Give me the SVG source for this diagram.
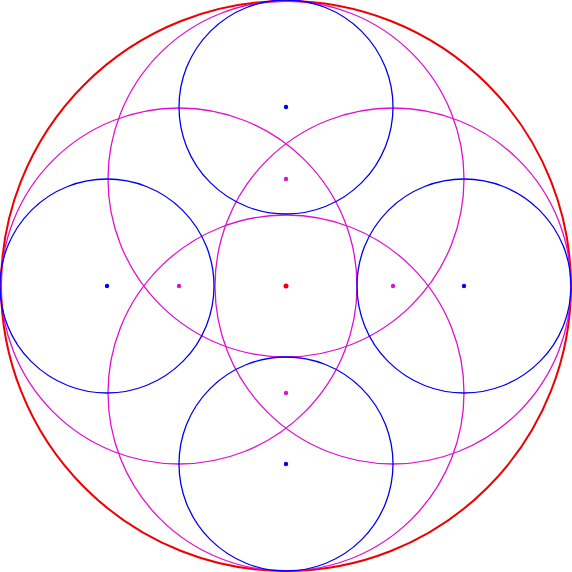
<svg xmlns="http://www.w3.org/2000/svg" width="572" height="572" viewBox="0 0 572 572">
<style>
.b{fill:none;stroke:#0000ee;stroke-width:1.3}
.m{fill:none;stroke:#e010d0;stroke-width:1.3}
.r{fill:none;stroke:#ee0000;stroke-width:2}
.bd{fill:#0000ee}.md{fill:#e010d0}.rd{fill:#ee0000}
</style>
<rect width="572" height="572" fill="#fff"/>
<g id="red"><circle class="r" cx="286" cy="286" r="285"/><circle class="rd" cx="286" cy="286" r="2.5"/></g>
<g id="magenta-top"><circle class="m" cx="286" cy="179" r="178"/><circle class="md" cx="286" cy="179" r="2.2"/></g>
<g id="magenta-left"><circle class="m" cx="179" cy="286" r="178"/><circle class="md" cx="179" cy="286" r="2.2"/></g>
<g id="magenta-right"><circle class="m" cx="393" cy="286" r="178"/><circle class="md" cx="393" cy="286" r="2.2"/></g>
<g id="magenta-bottom"><circle class="m" cx="286" cy="393" r="178"/><circle class="md" cx="286" cy="393" r="2.2"/></g>
<g id="blue-top"><circle class="b" cx="286" cy="107" r="107"/><circle class="bd" cx="286" cy="107" r="2.2"/></g>
<g id="blue-left"><circle class="b" cx="107" cy="286" r="107"/><circle class="bd" cx="107" cy="286" r="2.2"/></g>
<g id="blue-right"><circle class="b" cx="464" cy="286" r="107"/><circle class="bd" cx="464" cy="286" r="2.2"/></g>
<g id="blue-bottom"><circle class="b" cx="286" cy="464" r="107"/><circle class="bd" cx="286" cy="464" r="2.2"/></g>
<g id="connectors"/>
</svg>
